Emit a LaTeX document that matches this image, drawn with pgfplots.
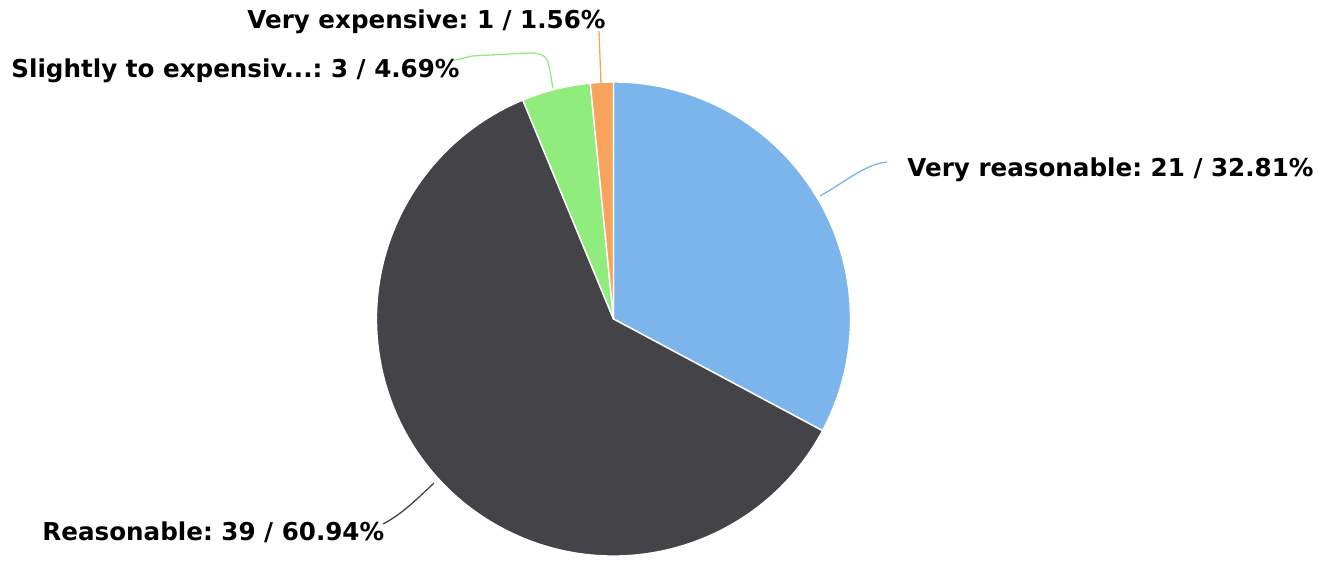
\documentclass[border=0pt]{standalone}
\usepackage{pgfplots}
\usepackage{pgfplotstable}
\pgfplotsset{compat=1.18}
\usepackage{fontspec}
\setmainfont{DejaVu Sans}
\definecolor{cBlue}{HTML}{7CB5EC}
\definecolor{cDark}{HTML}{434348}
\definecolor{cGreen}{HTML}{90ED7D}
\definecolor{cOrange}{HTML}{F7A35C}

\pgfplotstableread[col sep=comma]{
name,value
Very reasonable,21
Reasonable,39
Slightly to expensiv...,3
Very expensive,1
}\piedata

\begin{document}
\frenchspacing
\begin{tikzpicture}
\pgfplotstablegetelem{0}{value}\of\piedata \let\vA\pgfplotsretval
\pgfplotstablegetelem{1}{value}\of\piedata \let\vB\pgfplotsretval
\pgfplotstablegetelem{2}{value}\of\piedata \let\vC\pgfplotsretval
\pgfplotstablegetelem{3}{value}\of\piedata \let\vD\pgfplotsretval
\pgfmathsetmacro\tot{\vA+\vB+\vC+\vD}
\pgfmathsetmacro\aA{90-360*\vA/\tot}
\pgfmathsetmacro\aB{\aA-360*\vB/\tot}
\pgfmathsetmacro\aC{\aB-360*\vC/\tot}
\pgfmathsetmacro\aD{\aC-360*\vD/\tot}
\def\R{118.5bp}
\begin{axis}[
  at={(0,0)}, anchor=south west,
  scale only axis, width=662.5bp, height=280.5bp,
  xmin=0, xmax=1325, ymin=0, ymax=561, y dir=reverse,
  hide axis, clip=false,
]
\coordinate (BL) at (axis cs:0,561);
\coordinate (TR) at (axis cs:1325,0);
\tikzset{slice/.style={draw=white, line width=0.7bp, line join=round}}
\fill[cBlue, slice] (axis cs:613.5,319) -- ++(90:\R) arc[start angle=90, end angle=\aA, radius=\R] -- cycle;
\fill[cDark, slice] (axis cs:613.5,319) -- ++(\aA:\R) arc[start angle=\aA, end angle=\aB, radius=\R] -- cycle;
\fill[cGreen, slice] (axis cs:613.5,319) -- ++(\aB:\R) arc[start angle=\aB, end angle=\aC, radius=\R] -- cycle;
\fill[cOrange, slice] (axis cs:613.5,319) -- ++(\aC:\R) arc[start angle=\aC, end angle=\aD, radius=\R] -- cycle;

% connectors
\draw[cBlue, line width=0.65bp] (axis cs:820,196) .. controls (axis cs:848,180) and (axis cs:866,164) .. (axis cs:887,162);
\draw[cDark, line width=0.65bp] (axis cs:434,483) .. controls (axis cs:416,500) and (axis cs:402,514) .. (axis cs:383,524);
\draw[cGreen, line width=0.65bp] (axis cs:553,88) -- (axis cs:549,66) .. controls (axis cs:547,55) and (axis cs:541,53) .. (axis cs:528,53) -- (axis cs:472,56) -- (axis cs:452,61);
\draw[cOrange, line width=0.65bp] (axis cs:601,84) -- (axis cs:599,31);

% labels
\tikzset{lbl/.style={inner sep=0pt, font=\fontsize{12.3bp}{14bp}\selectfont\bfseries, text=black}}
\node[lbl, anchor=base east] at (axis cs:606,28) {Very expensive: 1 / 1.56\%};
\node[lbl, anchor=base west] at (axis cs:11,77) {Slightly to expensiv...: 3 / 4.69\%};
\node[lbl, anchor=base west] at (axis cs:907,176) {Very reasonable: 21 / 32.81\%};
\node[lbl, anchor=base west] at (axis cs:42,540) {Reasonable: 39 / 60.94\%};
\end{axis}
\pgfresetboundingbox
\useasboundingbox (BL) rectangle (TR);
\end{tikzpicture}
\end{document}
